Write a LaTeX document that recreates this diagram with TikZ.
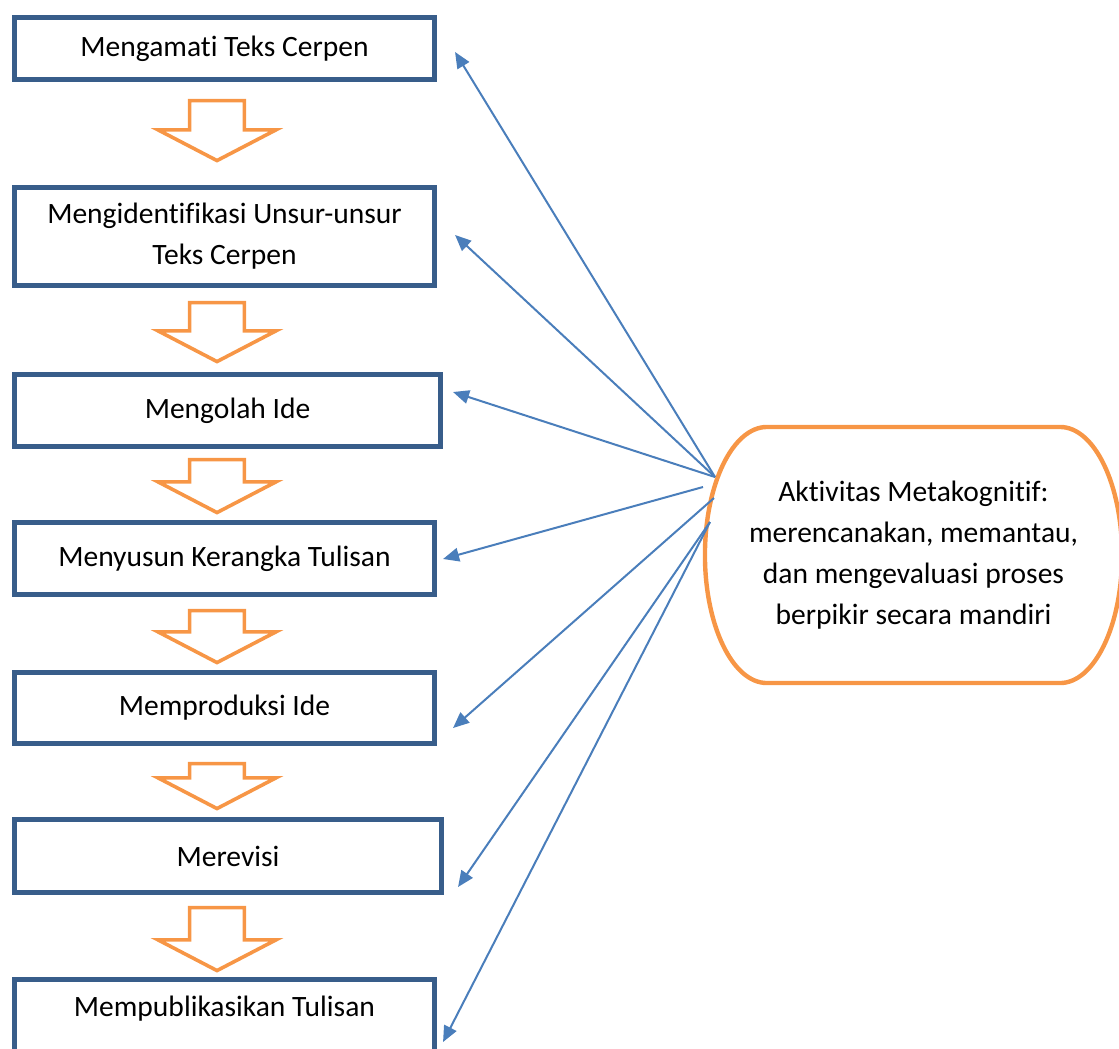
\documentclass[tikz,border=0pt]{standalone}
\usepackage{fontspec}
\setmainfont{Carlito}[Ligatures=NoCommon]
\usetikzlibrary{arrows.meta,shapes.arrows}
\definecolor{boxline}{HTML}{385D8A}
\definecolor{flowline}{HTML}{F79646}
\definecolor{linkline}{HTML}{4A7EBB}
\newcommand{\stepfont}{\fontsize{21}{29}\selectfont}

\begin{document}
\begin{tikzpicture}[x=0.025cm,y=-0.025cm,
  box/.style={draw=boxline,line width=1.1mm,fill=white,align=center,inner sep=0pt,outer sep=0pt,
              minimum width=105mm,font=\stepfont},
  flow/.style={single arrow,draw=flowline,line width=0.9mm,rotate=-90,inner xsep=0pt,inner ysep=6.4mm,
              anchor=tail,single arrow head extend=7.9mm,single arrow tip angle=125},
  meta/.style={align=center,inner sep=0pt,outer sep=0pt,minimum width=104.25mm,minimum height=64mm,
              font=\stepfont},
  link/.style={-{Triangle[length=4mm,width=3.4mm]},linkline,line width=0.5mm}]
  \useasboundingbox (0,0) rectangle (1119,1048);
  % ---- writing steps (left column)
  \node[box,minimum height=15.5mm]  (b1) at (224.5,48.5)  {Mengamati Teks Cerpen};
  \node[box,minimum height=24.5mm]  (b2) at (224.5,236.5) {Mengidentifikasi Unsur-unsur\\Teks Cerpen};
  \node[box,minimum height=18mm,minimum width=106.5mm] (b3) at (227.5,410.5) {Mengolah Ide};
  \node[box,minimum height=18mm]    (b4) at (224.5,558.5) {Menyusun Kerangka Tulisan};
  \node[box,minimum height=17.75mm] (b5) at (224.5,708)   {Memproduksi Ide};
  \node[box,minimum height=18.25mm,minimum width=106.75mm] (b6) at (228,856) {Merevisi};
  \node[box,anchor=north,text height=9.3mm,text depth=13mm] (b7) at (224.5,979.5) {Mempublikasikan Tulisan};
  % ---- hollow arrows between steps
  \foreach \i/\t/\l in {1/98.75/15mm,2/300.75/14.75mm,3/457.75/13.25mm,
                        4/608.75/13mm,5/761.75/11.25mm,6/905.75/15.75mm}
    \node[flow,minimum height=\l] (f\i) at (217,\t) {};
  % ---- metacognitive activity
  \node[meta] (meta) at (913.5,555) {Aktivitas Metakognitif:\\merencanakan, memantau,\\dan mengevaluasi proses\\berpikir secara mandiri};
  \draw[flowline,line width=1.1mm]
    ([xshift=15.5mm]meta.north west) -- ([xshift=-15.5mm]meta.north east)
    arc[start angle=90,end angle=-90,x radius=15.5mm,y radius=32mm]
    -- ([xshift=15.5mm]meta.south west)
    arc[start angle=270,end angle=90,x radius=15.5mm,y radius=32mm] -- cycle;
  % ---- links back to each step
  \coordinate (hub) at (715,477);
  \coordinate (s4)  at (703,487);
  \coordinate (s5)  at (714,498);
  \coordinate (s6)  at (710,522);
  \draw[link] (hub) -- ([shift={(20.5,3.5)}]b1.east);
  \draw[link] (hub) -- ([shift={(20.5,-1.5)}]b2.east);
  \draw[link] (hub) -- ([shift={(12.5,-18.5)}]b3.east);
  \draw[link] (s4)  -- ([shift={(8.5,0.5)}]b4.east);
  \draw[link] (s5)  -- ([shift={(18.5,20)}]b5.east);
  \draw[link] (s6)  -- ([shift={(16.5,31)}]b6.east);
  \draw[link] (s6)  -- ([shift={(8.5,62.5)}]b7.north east);
\end{tikzpicture}
\end{document}
